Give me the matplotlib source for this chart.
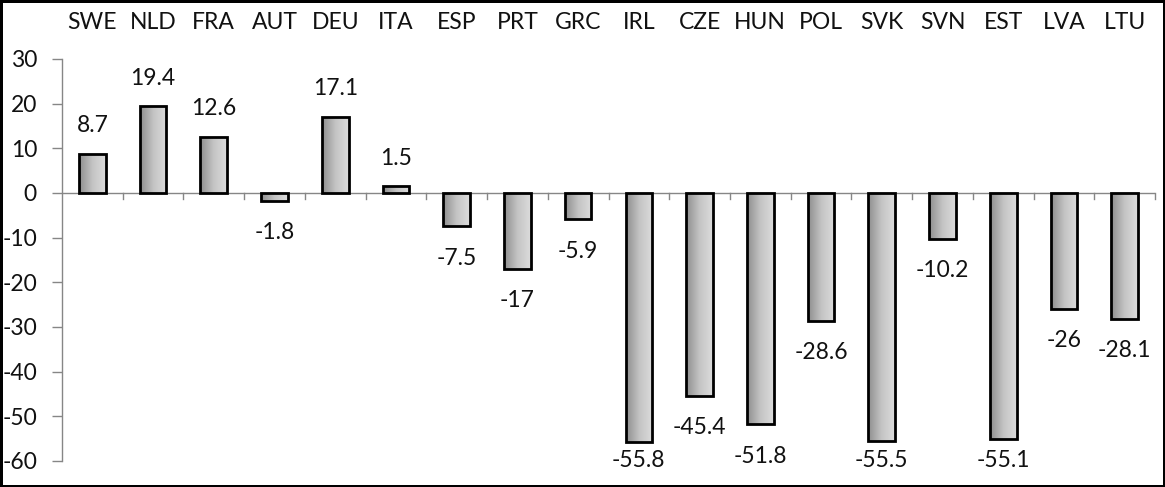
import numpy as np
import matplotlib.pyplot as plt
from matplotlib.colors import LinearSegmentedColormap

countries = ["SWE", "NLD", "FRA", "AUT", "DEU", "ITA", "ESP", "PRT", "GRC",
             "IRL", "CZE", "HUN", "POL", "SVK", "SVN", "EST", "LVA", "LTU"]
values = [8.7, 19.4, 12.6, -1.8, 17.1, 1.5, -7.5, -17, -5.9,
          -55.8, -45.4, -51.8, -28.6, -55.5, -10.2, -55.1, -26, -28.1]
yticks = [30, 20, 10, 0, -10, -20, -30, -40, -50, -60]

plt.rcParams['font.family'] = ['Lato', 'DejaVu Sans']

fig = plt.figure(figsize=(11.65, 4.87), dpi=100)
fig.patch.set_edgecolor('black')
fig.patch.set_linewidth(2.5)
ax = fig.add_axes([62 / 1165, 1 - 461 / 487, (1155 - 62) / 1165, (461 - 59) / 487])

x = np.arange(len(countries))
bars = ax.bar(x, values, width=0.44, color='none', edgecolor='black', linewidth=2, zorder=3)

# grey gradient inside each bar
cmap = LinearSegmentedColormap.from_list('g', ['#8e8e8e', '#c4c4c4', '#dcdcdc'])
grad = np.linspace(0, 1, 64).reshape(1, -1)
for b in bars:
    x0, y0 = b.get_x(), b.get_y()
    w, h = b.get_width(), b.get_height()
    im = ax.imshow(grad, cmap=cmap, aspect='auto', zorder=2,
                   extent=[x0, x0 + w, min(y0, y0 + h), max(y0, y0 + h)])
    im.set_clip_path(b)

ax.set_xlim(-0.5, len(countries) - 0.5)
ax.set_ylim(-60, 30)

fs = 16.5

# data labels (negative ones kept inside the plot area)
for xi, v in zip(x, values):
    if v >= 0:
        yl = v + 6.3
    else:
        yl = max(v - 7.1, -60.0)
    ax.text(xi, yl, f"{v:g}", ha='center', va='center', fontsize=fs, color='#111111', zorder=4)

# category labels at the top
for xi, c in zip(x, countries):
    ax.text(xi, 1.092, c, transform=ax.get_xaxis_transform(), ha='center', va='center',
            fontsize=fs, color='#111111')

for s in ['top', 'right', 'bottom']:
    ax.spines[s].set_visible(False)
ax.spines['left'].set_color('#868686')
ax.spines['left'].set_linewidth(1)
ax.axhline(0, color='#868686', linewidth=1, zorder=1)

ax.set_yticks(yticks)
ax.set_yticklabels([str(t) for t in yticks], fontsize=fs, color='#111111')
ax.tick_params(axis='y', length=7, width=1, color='#868686', pad=11)

ax.set_xticks([])
for b in np.arange(-0.5, len(countries), 1.0)[1:]:
    ax.plot([b, b], [0, -1.4], color='#868686', linewidth=1, zorder=1, clip_on=False)

fig.savefig('out.png', dpi=100)
